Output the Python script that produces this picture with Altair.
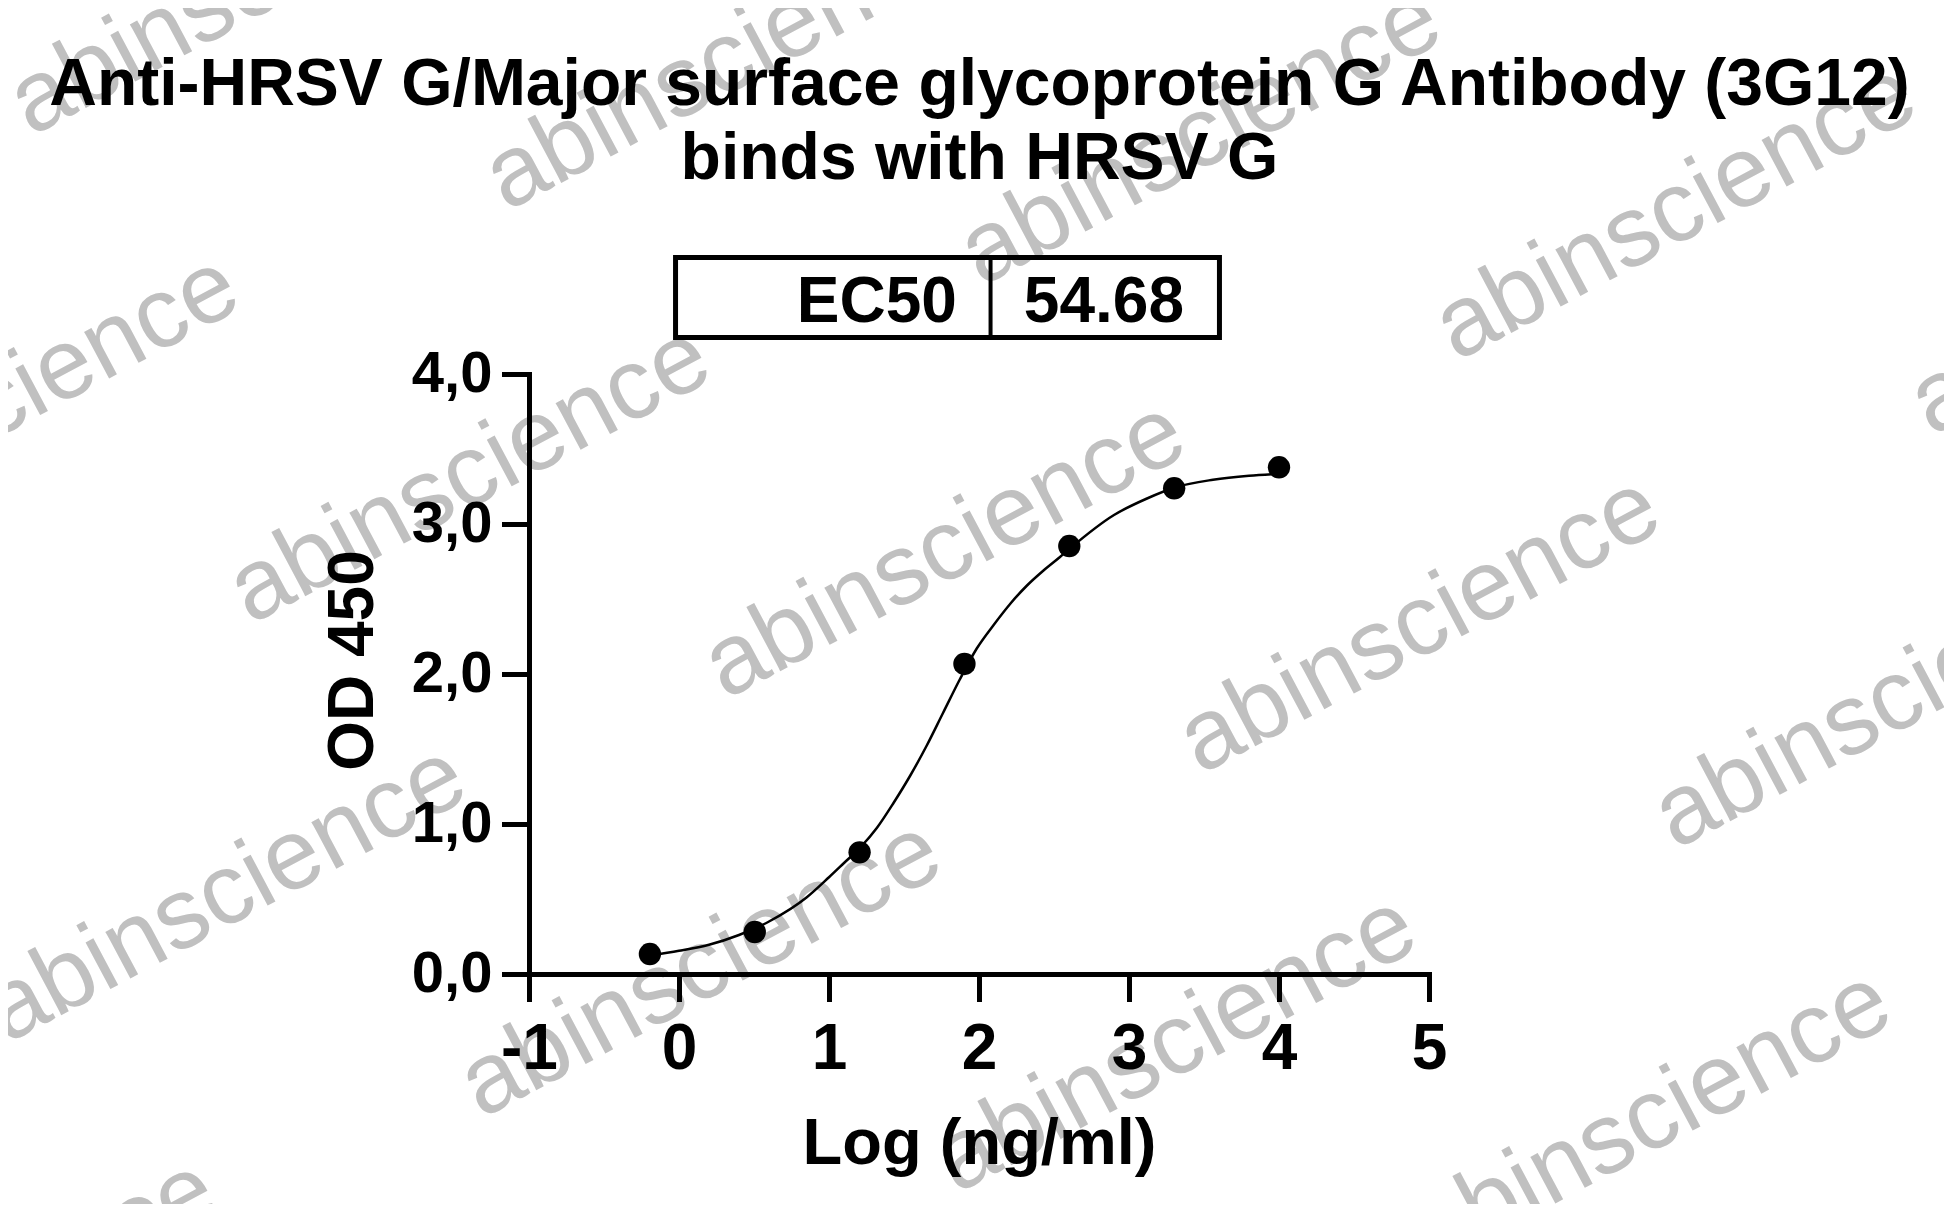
import altair as alt
import pandas as pd

# ---- data ----
log_conc = [-0.194, 0.505, 1.204, 1.903, 2.602, 3.301, 4.0]
od450 = [0.133, 0.28, 0.811, 2.067, 2.853, 3.238, 3.378]

curve_x = [-0.19, 0.0, 0.2, 0.4, 0.6, 0.85, 1.0, 1.1, 1.21, 1.32, 1.43, 1.54, 1.65, 1.76, 1.87,
           1.985, 2.1, 2.21, 2.32, 2.43, 2.54, 2.61, 2.9, 3.12, 3.31, 3.56, 3.8, 4.0]
curve_y = [0.125, 0.155, 0.195, 0.26, 0.35, 0.51, 0.645, 0.74, 0.845, 0.975, 1.14, 1.32, 1.52, 1.74, 1.96,
           2.17, 2.33, 2.47, 2.59, 2.69, 2.78, 2.84, 3.06, 3.17, 3.245, 3.295, 3.322, 3.335]

x_ticks = [-1, 0, 1, 2, 3, 4, 5]
y_ticks = [0, 1, 2, 3, 4]

title_lines = ["Anti-HRSV G/Major surface glycoprotein G Antibody (3G12)", "binds with HRSV G"]
ec50_label = "EC50"
ec50_value = "54.68"
x_title = "Log (ng/ml)"
y_title = "OD 450"
watermark_text = "abinscience"

# ---- layout / decoration (in the chart's data units) ----
FONT = "Liberation Sans, Arial, Helvetica, sans-serif"
watermark_anchors = [
    (-4.32, 5.58), (-1.15, 5.08), (2.016, 4.58), (5.183, 4.08), (8.35, 3.58),
    (-6.0, 2.80), (-2.857, 2.325), (0.31, 1.825), (3.476, 1.325), (6.643, 0.825),
    (-4.484, -0.469), (-1.317, -0.969), (1.85, -1.469), (5.016, -1.969),
    (-6.15, -3.229),
]
box = {"x": -0.023, "x2": 3.603, "y": 4.777, "y2": 4.243}
box_divider_x = 2.077
ec50_text_y = 4.347
ec50_label_x = 1.853
ec50_value_x = 2.833
title_anchor = {"x": 2.003, "y": 5.793}

points_df = pd.DataFrame({"x": log_conc, "y": od450})
curve_df = pd.DataFrame({"x": curve_x, "y": curve_y})
wm_df = pd.DataFrame({"x": [a[0] for a in watermark_anchors], "y": [a[1] for a in watermark_anchors]})

xscale = alt.Scale(domain=[-1, 5], nice=False, zero=False)
yscale = alt.Scale(domain=[0, 4], nice=False, zero=False)

xaxis = alt.Axis(
    values=x_ticks, labelExpr="'' + datum.value", grid=False, zindex=2,
    labelFont=FONT, labelFontSize=64, labelFontWeight="bold", labelColor="black",
    labelPadding=18, labelFlush=False, labelOverlap=False,
    tickSize=25, tickWidth=5, tickColor="black", tickCap="square",
    domainWidth=5, domainColor="black", domainCap="square",
    title=x_title, titleFont=FONT, titleFontSize=65, titleFontWeight="bold", titleColor="black",
    titleY=189, titleBaseline="alphabetic",
)
yaxis = alt.Axis(
    values=y_ticks, labelExpr="replace(format(datum.value, '.1f'), '.', ',')", grid=False, zindex=2,
    labelFont=FONT, labelFontSize=58, labelFontWeight="bold", labelColor="black",
    labelPadding=12, labelFlush=False, labelOverlap=False,
    tickSize=25, tickWidth=5, tickColor="black", tickCap="square",
    domainWidth=5, domainColor="black", domainCap="square",
    title=y_title, titleFont=FONT, titleFontSize=64, titleFontWeight="bold", titleColor="black",
    titleX=-157, titleY=286, titleAngle=270, titleBaseline="alphabetic", titleAlign="center",
)

X = alt.X("x:Q", scale=xscale, axis=xaxis)
Y = alt.Y("y:Q", scale=yscale, axis=yaxis)

watermarks = alt.Chart(wm_df).mark_text(
    text=watermark_text, font=FONT, fontSize=100, angle=332, align="left",
    baseline="alphabetic", color="#c0c0c0",
).encode(x=X, y=Y)

box_df = pd.DataFrame([box])
box_layer = alt.Chart(box_df).mark_rect(
    filled=False, stroke="black", strokeWidth=5
).encode(x=X, x2="x2:Q", y=Y, y2="y2:Q")

div_df = pd.DataFrame({"x": [box_divider_x], "y": [box["y"]], "y2": [box["y2"]]})
divider = alt.Chart(div_df).mark_rule(color="black", strokeWidth=4).encode(x=X, y=Y, y2="y2:Q")

lab_df = pd.DataFrame({"x": [ec50_label_x], "y": [ec50_text_y]})
ec50_lab = alt.Chart(lab_df).mark_text(
    text=ec50_label, font=FONT, fontSize=64, fontWeight="bold", align="right",
    baseline="alphabetic", color="black",
).encode(x=X, y=Y)

val_df = pd.DataFrame({"x": [ec50_value_x], "y": [ec50_text_y]})
ec50_val = alt.Chart(val_df).mark_text(
    text=ec50_value, font=FONT, fontSize=64, fontWeight="bold", align="center",
    baseline="alphabetic", color="black",
).encode(x=X, y=Y)

title_df = pd.DataFrame([title_anchor])
title_layer = alt.Chart(title_df).mark_text(
    text=title_lines, font=FONT, fontSize=66, fontWeight="bold", align="center",
    baseline="alphabetic", lineHeight=74, color="black",
).encode(x=X, y=Y)

curve = alt.Chart(curve_df).mark_line(
    color="black", strokeWidth=2.5, interpolate="monotone"
).encode(x=X, y=Y)

points = alt.Chart(points_df).mark_point(
    filled=True, color="black", size=500, opacity=1
).encode(x=X, y=Y)

chart = alt.layer(
    watermarks, box_layer, divider, ec50_lab, ec50_val, title_layer, curve, points
).properties(
    width=900, height=600,
    padding={"left": 521, "top": 366, "right": 515, "bottom": 230},
    autosize=alt.AutoSizeParams(type="none"),
).configure(background="white").configure_view(strokeWidth=0, stroke="transparent")

chart.save("out.html", embed_options={"renderer": "svg", "actions": False})
